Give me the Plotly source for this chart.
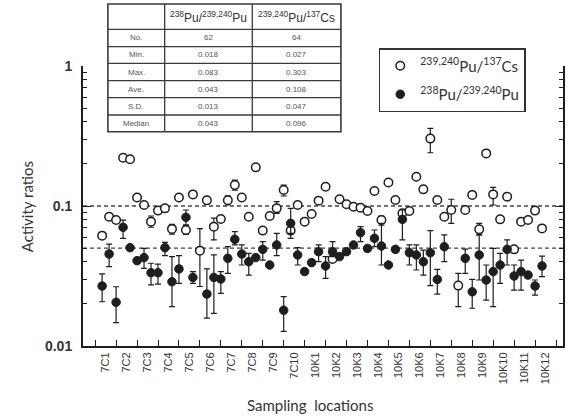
import plotly.graph_objects as go

# Sampling locations (three consecutive samples per location)
locations = ["7C1", "7C2", "7C3", "7C4", "7C5", "7C6", "7C7", "7C8", "7C9", "7C10",
             "10K1", "10K2", "10K3", "10K4", "10K5", "10K6", "10K7", "10K8", "10K9",
             "10K10", "10K11", "10K12"]
samples = list(range(1, 65))

# 239,240Pu/137Cs activity ratio per sample
pu_cs = [0.0614, 0.0839, 0.0794, 0.221, 0.216, 0.115, 0.1017, 0.0773, 0.0927, 0.0962,
         0.0686, 0.115, 0.0674, 0.121, 0.048, 0.110, 0.0712, 0.0807, 0.110, 0.1413,
         0.115, 0.0839, 0.1888, 0.0667, 0.0849, 0.0962, 0.130, 0.0667, 0.1017, 0.0773,
         0.0877, 0.1092, 0.1374, 0.0418, 0.1116, 0.1028, 0.0989, 0.0973, 0.0921, 0.128,
         0.0794, 0.147, 0.1104, 0.0887, 0.0921, 0.162, 0.1315, 0.303, 0.1104, 0.0839,
         0.0936, 0.027, 0.0936, 0.120, 0.0681, 0.2375, 0.121, 0.0803, 0.1166, 0.049,
         0.0773, 0.0794, 0.0927, 0.0692]
# upper / lower bounds of the uncertainty (sample -> (hi, lo))
pu_cs_err = {8: (0.0848, 0.0705), 11: (0.074, 0.063), 13: (0.0725, 0.0628),
             15: (0.069, 0.0266), 16: (0.1165, 0.1033), 17: (0.0820, 0.0573),
             19: (0.118, 0.1017), 20: (0.153, 0.130), 26: (0.1074, 0.0886),
             27: (0.141, 0.1179), 28: (0.0731, 0.0588), 41: (0.0848, 0.0731),
             48: (0.358, 0.240), 51: (0.1117, 0.0752), 52: (0.033, 0.0191),
             55: (0.0752, 0.0621), 57: (0.136, 0.1017)}

# 238Pu/239,240Pu activity ratio per sample (None = not determined)
pu_pu = [0.0268, 0.0454, 0.0205, 0.0704, 0.0504, 0.0407, 0.0428, 0.0334, 0.0334, 0.0504,
         0.0288, 0.0355, 0.0830, 0.0309, None, 0.0235, 0.0309, 0.0301, 0.0423, 0.0578,
         0.0454, 0.0400, 0.0428, 0.0490, 0.0379, 0.0527, 0.0180, 0.0752, 0.0447, 0.0340,
         0.0394, 0.0472, 0.0373, 0.0472, 0.0435, 0.0472, 0.0527, 0.0645, 0.0498, 0.0588,
         0.0518, 0.0379, 0.0490, 0.0803, 0.0464, 0.0447, 0.0400, 0.0464, 0.0299, 0.0512,
         None, None, 0.0423, 0.0244, 0.0447, 0.0296, 0.0340, 0.0379, 0.0490, 0.0316,
         0.0340, 0.0321, 0.0268, 0.0373]
pu_pu_err = {1: (0.0327, 0.0207), 2: (0.0535, 0.0369), 3: (0.0265, 0.0147),
             4: (0.0794, 0.0588), 7: (0.0498, 0.0359), 8: (0.0390, 0.0273),
             9: (0.0385, 0.0277), 10: (0.0550, 0.0442), 11: (0.0435, 0.0191),
             12: (0.0442, 0.0280), 13: (0.0936, 0.0732), 14: (0.0340, 0.0280),
             16: (0.0355, 0.0158), 17: (0.0447, 0.0171), 18: (0.0340, 0.0238),
             19: (0.0512, 0.0330), 20: (0.0656, 0.0527), 21: (0.0527, 0.0379),
             22: (0.0459, 0.0321), 24: (0.0556, 0.0411), 26: (0.0638, 0.0442),
             27: (0.0225, 0.0127), 28: (0.0962, 0.0638), 29: (0.0504, 0.0379),
             32: (0.0527, 0.0400), 33: (0.0435, 0.0304), 34: (0.0556, 0.0435),
             38: (0.0712, 0.0556), 40: (0.0674, 0.0512), 41: (0.0752, 0.0379),
             44: (0.0936, 0.0572), 45: (0.0527, 0.0379), 46: (0.0527, 0.0349),
             47: (0.0484, 0.0321), 48: (0.0667, 0.0270), 49: (0.0353, 0.0235),
             50: (0.0621, 0.0400), 53: (0.0492, 0.0330), 54: (0.0299, 0.0186),
             55: (0.0621, 0.0296), 56: (0.0379, 0.0213), 57: (0.0498, 0.0191),
             58: (0.0459, 0.0280), 59: (0.0572, 0.0379), 60: (0.0379, 0.0251),
             61: (0.0411, 0.0251), 63: (0.0296, 0.0231), 64: (0.0439, 0.0313)}

# Reference levels (dashed lines)
ref_levels = [0.1, 0.05]

# Summary statistics table
stat_names = ["No.", "Min.", "Max.", "Ave.", "S.D.", "Median"]
stat_pu_pu = ["62", "0.018", "0.083", "0.043", "0.013", "0.043"]
stat_pu_cs = ["64", "0.027", "0.303", "0.108", "0.047", "0.096"]


def split_err(xs, ys, errs):
    px, py, up, dn = [], [], [], []
    for s, v in zip(xs, ys):
        if v is None:
            continue
        px.append(s)
        py.append(v)
        hi, lo = errs.get(s, (v, v))
        up.append(hi - v)
        dn.append(v - lo)
    return px, py, up, dn


INK = "#1e1e1e"
TXT = "#333333"

fig = go.Figure()

cx, cy, cu, cd = split_err(samples, pu_cs, pu_cs_err)
fig.add_trace(go.Scatter(
    x=cx, y=cy, mode="markers",
    name="<sup>239,240</sup>Pu/<sup>137</sup>Cs",
    marker=dict(symbol="circle", size=8.5, color="white", line=dict(color=INK, width=1.5)),
    error_y=dict(type="data", symmetric=False, array=cu, arrayminus=cd,
                 color=INK, thickness=1.2, width=3),
    legendgroup="a",
))

fx, fy, fu, fd = split_err(samples, pu_pu, pu_pu_err)
fig.add_trace(go.Scatter(
    x=fx, y=fy, mode="markers",
    name="<sup>238</sup>Pu/<sup>239,240</sup>Pu",
    marker=dict(symbol="circle", size=8.5, color=INK, line=dict(color=INK, width=1)),
    error_y=dict(type="data", symmetric=False, array=fu, arrayminus=fd,
                 color=INK, thickness=1.2, width=3),
    legendgroup="b",
))

# dashed reference lines
for lv in ref_levels:
    fig.add_shape(type="line", xref="paper", yref="y", x0=0, x1=1, y0=lv, y1=lv,
                  line=dict(color="#444444", width=1.3, dash="4px,3px"), layer="below")

n_loc = len(locations)
loc_centers = [1.5 + 3 * k for k in range(n_loc)]
loc_bounds = [3 * k for k in range(n_loc + 1)]
minor_y = [m * 10 ** e for e in (-2, -1) for m in range(2, 10)]

fig.update_layout(
    width=571, height=418,
    margin=dict(l=83, r=6, t=66, b=72),
    paper_bgcolor="white", plot_bgcolor="white",
    showlegend=True,
    legend=dict(x=(380 - 83) / 482, y=(346 - 48) / 280, xanchor="left", yanchor="top",
                bgcolor="white", bordercolor="#333333", borderwidth=1.5,
                font=dict(family="Lato", size=15, color=TXT),
                traceorder="grouped", tracegroupgap=6),
    xaxis=dict(range=[-1.74, 67.0], showline=True, linecolor=INK, linewidth=2,
               showgrid=False, zeroline=False, mirror=False,
               tickmode="array", tickvals=loc_centers, ticktext=locations,
               ticks="", tickangle=-90,
               tickfont=dict(family="Liberation Sans", size=11, color=TXT),
               minor=dict(tickmode="array", tickvals=loc_bounds, ticks="inside",
                          ticklen=6, tickcolor=INK, tickwidth=1.2, showgrid=False)),
    yaxis=dict(type="log", range=[-2, 0], showline=True, linecolor=INK, linewidth=2,
               mirror="ticks", showgrid=False, zeroline=False,
               tickmode="array", tickvals=[0.01, 0.1, 1], ticktext=["0.01", "0.1", "1"],
               ticks="inside", ticklen=8, tickwidth=1.2, tickcolor=INK,
               tickfont=dict(family="Liberation Sans", size=14, color=TXT, weight="bold"),
               ticklabelstandoff=6,
               minor=dict(tickmode="array", tickvals=minor_y, ticks="inside",
                          ticklen=4, tickcolor=INK, tickwidth=1, showgrid=False)),
)

# axis titles
fig.add_annotation(text="Sampling  locations", xref="paper", yref="paper",
                   x=(311 - 83) / 482, y=(346 - 405) / 280, xanchor="center", yanchor="middle",
                   showarrow=False, font=dict(family="Lato", size=15, color=TXT))
fig.add_annotation(text="Activity ratios", xref="paper", yref="paper",
                   x=(27 - 83) / 482, y=(346 - 207) / 280, xanchor="center", yanchor="middle",
                   textangle=-90, showarrow=False, font=dict(family="Lato", size=15, color=TXT))

# summary statistics table
col_x = [108, 165, 253, 342]
row_y = [4, 29.3, 46.7, 63.3, 80.7, 97.7, 115, 131.7]


def pxx(v):
    return (v - 83) / 482


def pxy(v):
    return (346 - v) / 280


fig.add_shape(type="rect", xref="paper", yref="paper",
              x0=pxx(col_x[0]), x1=pxx(col_x[-1]), y0=pxy(row_y[-1]), y1=pxy(row_y[0]),
              fillcolor="white", line=dict(color="#3a3a3a", width=1.6), layer="above")
for xv in col_x[1:-1]:
    fig.add_shape(type="line", xref="paper", yref="paper",
                  x0=pxx(xv), x1=pxx(xv), y0=pxy(row_y[-1]), y1=pxy(row_y[0]),
                  line=dict(color="#3a3a3a", width=1.3), layer="above")
for yv in row_y[1:-1]:
    fig.add_shape(type="line", xref="paper", yref="paper",
                  x0=pxx(col_x[0]), x1=pxx(col_x[-1]), y0=pxy(yv), y1=pxy(yv),
                  line=dict(color="#3a3a3a", width=1.3), layer="above")

headers = ["<sup>238</sup>Pu/<sup>239,240</sup>Pu", "<sup>239,240</sup>Pu/<sup>137</sup>Cs"]
for j, h in enumerate(headers):
    fig.add_annotation(text=h, xref="paper", yref="paper",
                       x=pxx((col_x[j + 1] + col_x[j + 2]) / 2), y=pxy((row_y[0] + row_y[1]) / 2),
                       xanchor="center", yanchor="middle",
                       showarrow=False, font=dict(family="Liberation Sans", size=12, color=TXT))

for i, name in enumerate(stat_names):
    ymid = pxy((row_y[i + 1] + row_y[i + 2]) / 2)
    for j, txt in enumerate([name, stat_pu_pu[i], stat_pu_cs[i]]):
        fig.add_annotation(text=txt, xref="paper", yref="paper",
                           x=pxx((col_x[j] + col_x[j + 1]) / 2), y=ymid,
                           xanchor="center", yanchor="middle",
                           showarrow=False,
                           font=dict(family="Liberation Sans", size=8, color="#555555"))

fig.write_html("out.html")
